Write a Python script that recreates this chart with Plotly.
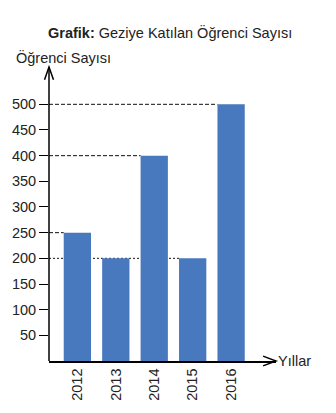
import plotly.graph_objects as go

years = ["2012", "2013", "2014", "2015", "2016"]
students = [250, 200, 400, 200, 500]
y_ticks = [50, 100, 150, 200, 250, 300, 350, 400, 450, 500]

BAR_COLOR = "#4878be"
FONT = "Liberation Sans, Arial, sans-serif"

# plot-area geometry (pixels)
L, R, T, B = 48, 60, 67, 47
W = 336 - L - R
H = 413 - T - B
x_range = [-0.738, 5.168]
y_range = [0, 572.7]
bar_w = 0.71

x_pos = list(range(len(years)))

fig = go.Figure()
fig.add_trace(go.Bar(
    x=x_pos, y=students, width=bar_w,
    marker=dict(color=BAR_COLOR, line=dict(width=0)),
    hoverinfo="skip",
))

shapes = []
# guide lines from the y-axis to the bar's left edge
guides = [(500, 4, "4px,2px"), (400, 2, "4px,2px"), (250, 0, "4px,2px"), (200, 3, "2px,2px")]
for val, idx, dash in guides:
    shapes.append(dict(type="line", xref="x", yref="y", layer="below",
                       x0=x_range[0], x1=x_pos[idx] - bar_w / 2, y0=val, y1=val,
                       line=dict(color="#111", width=1, dash=dash)))

# arrowheads
ax_px, ay_px = 4.5 / W, 13 / H
shapes.append(dict(type="path", xref="paper", yref="paper",
                   path=f"M {-ax_px} {1 - ay_px} L 0 1 L {ax_px} {1 - ay_px}",
                   line=dict(color="black", width=1.5)))
bx_px, by_px = 13 / W, 5 / H
shapes.append(dict(type="path", xref="paper", yref="paper",
                   path=f"M {1 - bx_px} {by_px} L 1 0 L {1 - bx_px} {-by_px}",
                   line=dict(color="black", width=1.5)))
# y axis line up to the arrow tip
shapes.append(dict(type="line", xref="paper", yref="paper", x0=0, x1=0, y0=0, y1=1,
                   line=dict(color="black", width=1.5)))

annotations = [
    dict(text="<b>Grafik:</b> Geziye Katılan Öğrenci Sayısı", xref="paper", yref="paper",
         x=(170 - L) / W, y=1 + (T - 32) / H, xanchor="center", yanchor="middle",
         showarrow=False, font=dict(family=FONT, size=14.5, color="#222")),
    dict(text="Öğrenci Sayısı", xref="paper", yref="paper",
         x=(13 - L) / W, y=1 + (T - 57) / H, xanchor="left", yanchor="middle",
         showarrow=False, font=dict(family=FONT, size=14.5, color="#222")),
    dict(text="Yıllar", xref="paper", yref="paper",
         x=1 + 0 / W, y=0, xanchor="left", yanchor="middle",
         showarrow=False, font=dict(family=FONT, size=14.5, color="#222")),
]

fig.update_layout(
    width=336, height=413,
    margin=dict(l=L, r=R, t=T, b=B, pad=0),
    paper_bgcolor="white", plot_bgcolor="white",
    showlegend=False,
    shapes=shapes, annotations=annotations,
    xaxis=dict(range=x_range, tickvals=x_pos, ticktext=years, tickangle=-90,
               showgrid=False, zeroline=False, showline=True, linecolor="black",
               linewidth=1.5, ticks="", fixedrange=True,
               tickfont=dict(family=FONT, size=14.5, color="#222")),
    yaxis=dict(range=y_range, tickvals=y_ticks, showgrid=False, zeroline=False,
               showline=False, ticks="outside", ticklen=9, tickwidth=1.2,
               tickcolor="black", fixedrange=True,
               tickfont=dict(family=FONT, size=14.5, color="#222")),
)

fig.write_html("out.html")
